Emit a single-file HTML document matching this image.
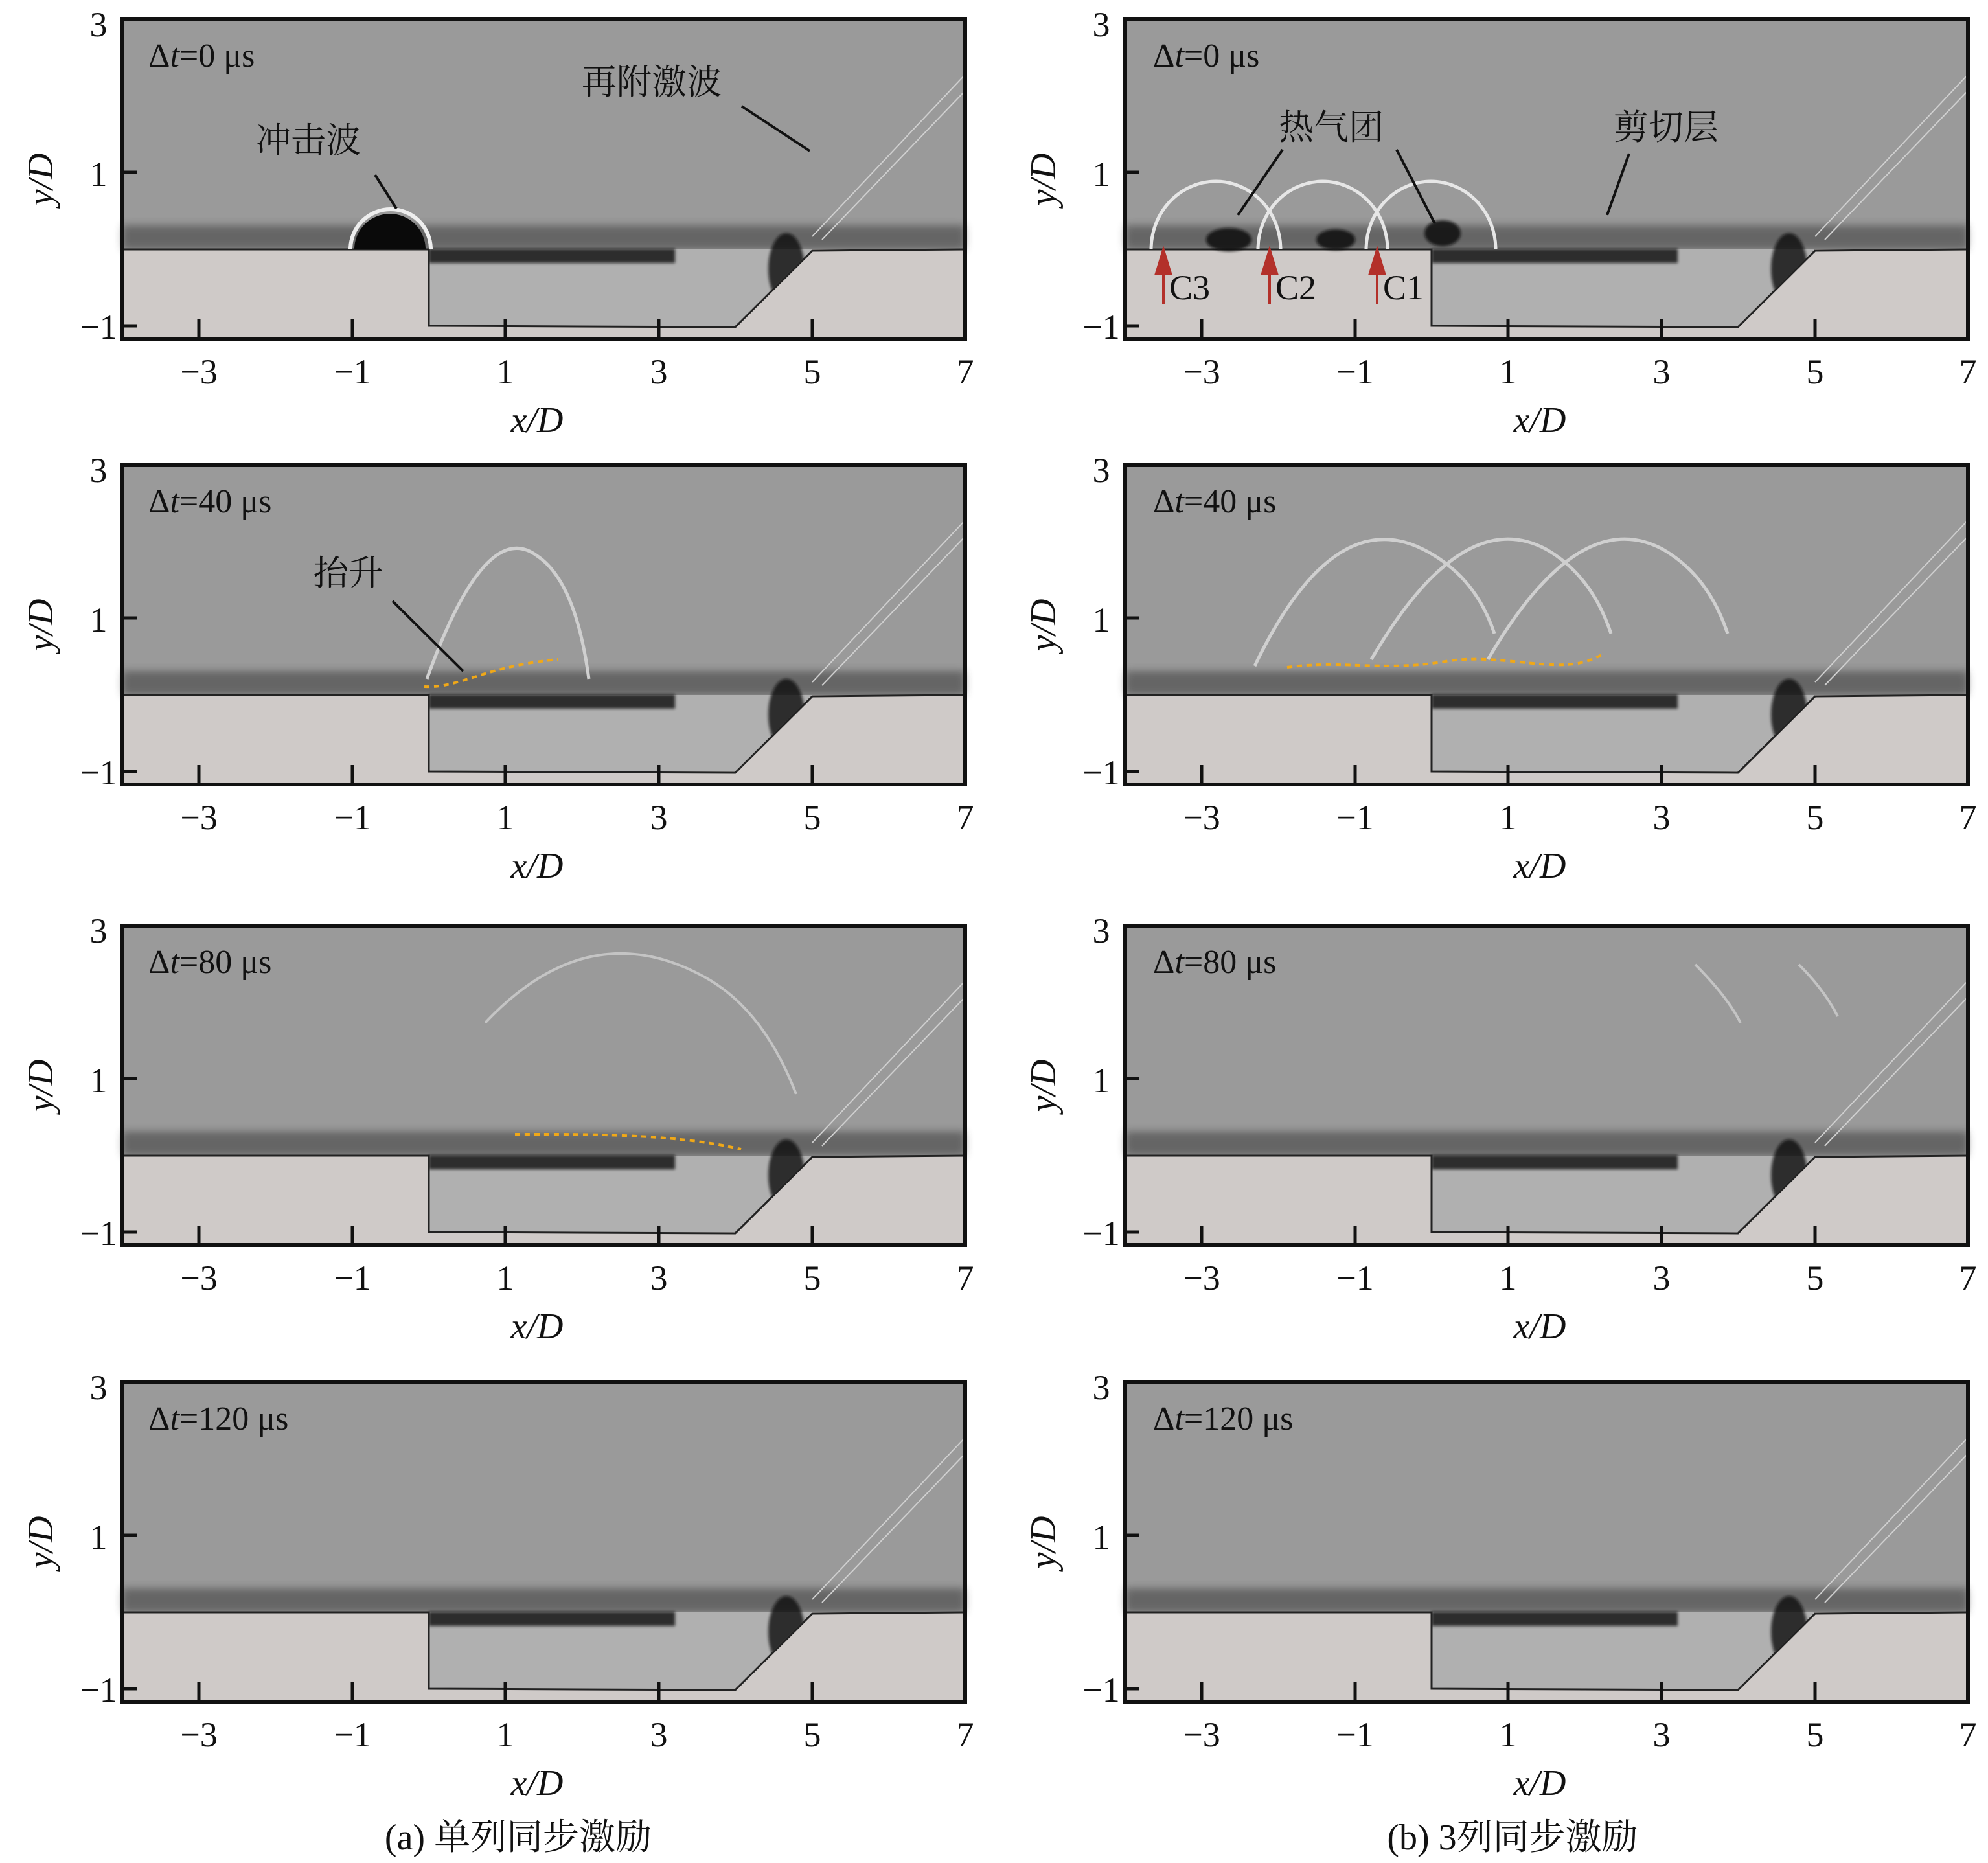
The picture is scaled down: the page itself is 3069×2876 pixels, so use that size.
<!DOCTYPE html>
<html><head><meta charset="utf-8"><style>
html,body{margin:0;padding:0;background:#fff}
svg{display:block}
text{font-family:"Liberation Serif","Noto Serif CJK SC",serif;fill:#111}
.cn{font-family:"Liberation Serif","Noto Serif CJK SC","Noto Sans CJK SC",serif}
</style></head><body>
<svg width="3069" height="2876" viewBox="0 0 3069 2876" xmlns="http://www.w3.org/2000/svg">
<defs>
<filter id="bl" x="-20%" y="-50%" width="140%" height="200%"><feGaussianBlur stdDeviation="6"/></filter>
<filter id="bl2" x="-20%" y="-50%" width="140%" height="200%"><feGaussianBlur stdDeviation="2"/></filter>
<g id="panel">
  <rect x="0" y="0" width="1301" height="493" fill="#9a9a9a"/>
  <rect x="0" y="318" width="1301" height="37" fill="#333" opacity="0.5" filter="url(#bl)"/>
  <polygon points="473,355 1065,355 946,473 473,473" fill="#b0b0b0"/>
  <rect x="473" y="354" width="380" height="22" fill="#111" opacity="0.8" filter="url(#bl2)"/>
  <ellipse cx="1025" cy="385" rx="28" ry="55" fill="#0a0a0a" opacity="0.8" filter="url(#bl2)"/>
  <path d="M1065,335 L1301,85 M1080,340 L1301,110" stroke="#cfcfcf" stroke-width="2" fill="none"/>
  <rect x="0" y="355" width="473" height="138" fill="#cfcac8"/>
  <polygon points="946,473 1065,355 1301,355 1301,493 473,493 473,473" fill="#cfcac8"/>
  <path d="M0,355 L473,355 L473,473 L946,475 L1065,357 L1301,355" stroke="#222" stroke-width="3" fill="none"/>
  <path d="M118,493 v-30 M355,493 v-30 M591,493 v-30 M828,493 v-30 M1065,493 v-30 M0,236 h22 M0,473 h22" stroke="#111" stroke-width="5"/>
  <rect x="0" y="0" width="1301" height="493" fill="none" stroke="#111" stroke-width="6"/>
</g>
<g id="labels">
  <text x="-37" y="26" font-size="54" text-anchor="middle">3</text>
  <text x="-37" y="257" font-size="54" text-anchor="middle">1</text>
  <text x="-37" y="493" font-size="54" text-anchor="middle">−1</text>
  <text x="118" y="562" font-size="54" text-anchor="middle">−3</text>
  <text x="355" y="562" font-size="54" text-anchor="middle">−1</text>
  <text x="591" y="562" font-size="54" text-anchor="middle">1</text>
  <text x="828" y="562" font-size="54" text-anchor="middle">3</text>
  <text x="1065" y="562" font-size="54" text-anchor="middle">5</text>
  <text x="1301" y="562" font-size="54" text-anchor="middle">7</text>
  <text x="640" y="637" font-size="56" text-anchor="middle" font-style="italic">x/D</text>
  <text transform="translate(-108,247) rotate(-90)" font-size="56" text-anchor="middle" font-style="italic">y/D</text>
</g>
</defs>

<g transform="translate(189,30)">
  <use href="#panel"/><use href="#labels"/>
  <path d="M358,355 A55,55 0 0 1 468,355 Z" fill="#0a0a0a"/>
  <path d="M352,355 A62,62 0 0 1 476,355" stroke="#eee" stroke-width="6" fill="none"/>
  <text x="40" y="73" font-size="52">Δ<tspan font-style="italic">t</tspan>=0 μs</text>
  <text class="cn" x="206" y="205" font-size="54">冲击波</text>
  <line x1="390" y1="240" x2="423" y2="292" stroke="#111" stroke-width="4"/>
  <text class="cn" x="709" y="115" font-size="54">再附激波</text>
  <line x1="956" y1="134" x2="1061" y2="203" stroke="#111" stroke-width="4"/>
</g>
<g transform="translate(1737,30)">
  <use href="#panel"/><use href="#labels"/>
  <g fill="#111" opacity="0.85" filter="url(#bl2)">
    <ellipse cx="160" cy="340" rx="35" ry="18"/><ellipse cx="325" cy="340" rx="30" ry="16"/><ellipse cx="490" cy="330" rx="28" ry="20"/>
  </g>
  <g stroke="#e6e6e6" stroke-width="5" fill="none">
    <path d="M40,355 A100,105 0 0 1 240,355"/><path d="M205,355 A100,105 0 0 1 405,355"/><path d="M372,355 A100,105 0 0 1 572,355"/>
  </g>
  <text x="43" y="73" font-size="52">Δ<tspan font-style="italic">t</tspan>=0 μs</text>
  <text class="cn" x="237" y="185" font-size="54">热气团</text>
  <line x1="243" y1="201" x2="174" y2="302" stroke="#111" stroke-width="4"/>
  <line x1="419" y1="201" x2="478" y2="315" stroke="#111" stroke-width="4"/>
  <text class="cn" x="754" y="185" font-size="54">剪切层</text>
  <line x1="778" y1="207" x2="744" y2="302" stroke="#111" stroke-width="4"/>
  <g fill="#b3302a" stroke="#b3302a" stroke-width="4">
    <line x1="59" y1="440" x2="59" y2="380"/><polygon points="59,356 48,392 70,392"/>
    <line x1="223" y1="440" x2="223" y2="380"/><polygon points="223,356 212,392 234,392"/>
    <line x1="389" y1="440" x2="389" y2="380"/><polygon points="389,356 378,392 400,392"/>
  </g>
  <text x="68" y="432" font-size="54">C3</text>
  <text x="232" y="432" font-size="54">C2</text>
  <text x="398" y="432" font-size="54">C1</text>
</g>

<g transform="translate(189,718)">
  <use href="#panel"/><use href="#labels"/>
  <path d="M470,330 Q560,80 640,140 Q700,180 720,330" stroke="#cfcfcf" stroke-width="5" fill="none"/>
  <text x="40" y="73" font-size="52">Δ<tspan font-style="italic">t</tspan>=40 μs</text>
  <text class="cn" x="295" y="185" font-size="54">抬升</text>
  <line x1="417" y1="210" x2="526" y2="318" stroke="#111" stroke-width="4"/>
  <path d="M466,342 C520,345 560,310 672,300" stroke="#f0a818" stroke-width="4" stroke-dasharray="8,7" fill="none"/>
</g>
<g transform="translate(1737,718)">
  <use href="#panel"/><use href="#labels"/>
  <g stroke="#cfcfcf" stroke-width="5" fill="none">
    <path d="M200,310 Q320,60 460,130 Q540,170 570,260"/><path d="M380,300 Q520,60 650,130 Q720,170 750,260"/><path d="M560,300 Q700,60 830,130 Q900,170 930,260"/>
  </g>
  <text x="43" y="73" font-size="52">Δ<tspan font-style="italic">t</tspan>=40 μs</text>
  <path d="M250,312 C340,300 400,320 500,302 C600,290 680,330 740,290" stroke="#f0a818" stroke-width="4" stroke-dasharray="8,7" fill="none"/>
</g>

<g transform="translate(189,1429)">
  <use href="#panel"/><use href="#labels"/>
  <path d="M560,150 Q720,-20 900,80 Q990,130 1040,260" stroke="#c4c4c4" stroke-width="4" fill="none"/>
  <text x="40" y="73" font-size="52">Δ<tspan font-style="italic">t</tspan>=80 μs</text>
  <path d="M606,322 C700,322 850,320 955,345" stroke="#f0a818" stroke-width="4" stroke-dasharray="8,7" fill="none"/>
</g>
<g transform="translate(1737,1429)">
  <use href="#panel"/><use href="#labels"/>
  <path d="M880,60 Q930,110 950,150 M1040,60 Q1080,100 1100,140" stroke="#c4c4c4" stroke-width="4" fill="none"/>
  <text x="43" y="73" font-size="52">Δ<tspan font-style="italic">t</tspan>=80 μs</text>
</g>

<g transform="translate(189,2134)">
  <use href="#panel"/><use href="#labels"/>
  <text x="40" y="73" font-size="52">Δ<tspan font-style="italic">t</tspan>=120 μs</text>
</g>
<g transform="translate(1737,2134)">
  <use href="#panel"/><use href="#labels"/>
  <text x="43" y="73" font-size="52">Δ<tspan font-style="italic">t</tspan>=120 μs</text>
</g>

<text class="cn" x="800" y="2855" font-size="56" text-anchor="middle">(a) 单列同步激励</text>
<text class="cn" x="2335" y="2855" font-size="56" text-anchor="middle">(b) 3列同步激励</text>
</svg>
</body></html>
